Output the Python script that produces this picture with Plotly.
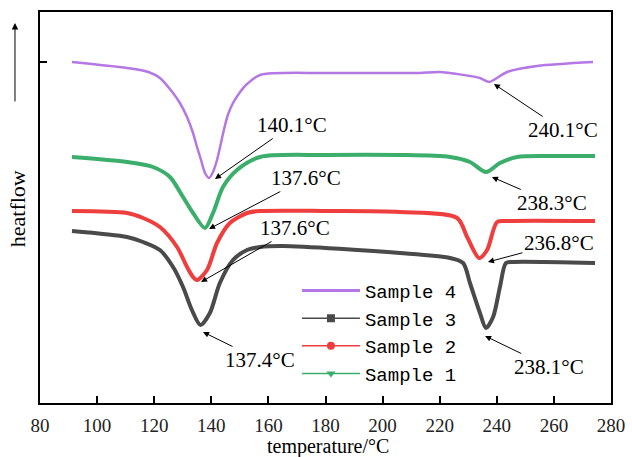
import plotly.graph_objects as go

# Sample 4 (purple)
t4 = [91.2, 110.5, 118.0, 122.0, 126.6, 129.0, 131.5, 133.6, 135.0, 136.4, 137.8, 139.2, 140.6, 142.0, 143.0,
      144.4, 145.8, 147.6, 150.1, 152.5, 157.1, 180.0, 206.0, 213.1, 220.1, 230.6, 234.1, 237.3,
      243.6, 254.1, 273.7]
y4 = [34.1, 33.5, 33.1, 32.5, 31.0, 30.0, 28.6, 27.0, 25.6, 24.3, 23.0, 22.5, 23.1, 24.3, 25.5,
      27.3, 28.8, 30.0, 31.1, 31.9, 32.8, 33.0, 33.0, 33.0, 33.1, 32.7, 32.5, 32.1,
      33.1, 33.7, 34.1]

# Sample 1 (green)
t1 = [91.2, 110.5, 119.6, 125.5, 130.1, 133.6, 137.8, 140.6, 144.1, 149.0, 157.1, 180.0, 206.1,
      223.6, 230.6, 236.2, 241.1, 247.1, 258.6, 274.4]
y1 = [24.6, 24.1, 23.6, 22.6, 20.6, 19.0, 17.5, 19.0, 21.6, 23.3, 24.6, 24.8, 24.8,
      24.6, 24.1, 23.1, 24.0, 24.6, 24.7, 24.7]

# Sample 2 (red)
t2 = [91.2, 110.5, 116.1, 122.0, 128.0, 131.5, 133.6, 135.0, 138.5, 142.0, 146.5, 152.5, 157.1,
      180.0, 206.1, 226.1, 229.6, 233.8, 236.6, 240.1, 243.6, 274.4]
y2 = [19.2, 19.0, 18.5, 17.6, 15.6, 13.6, 12.6, 12.3, 13.3, 16.0, 18.0, 19.0, 19.2,
      19.2, 19.1, 18.5, 16.6, 14.5, 15.3, 18.1, 18.2, 18.2]

# Sample 3 (dark gray)
t3 = [91.2, 110.5, 116.1, 122.0, 126.6, 130.1, 133.2, 136.2, 139.5, 143.0, 147.6, 152.5, 157.1,
      165.0, 206.1, 223.6, 228.2, 230.6, 234.1, 236.2, 238.7, 241.1, 243.2, 245.7, 274.4]
y3 = [17.2, 16.6, 16.1, 15.3, 13.6, 11.6, 9.3, 7.8, 9.0, 12.0, 14.3, 15.3, 15.6,
      15.7, 15.0, 14.5, 14.0, 12.0, 9.0, 7.5, 8.6, 11.6, 14.0, 14.1, 14.0]

names = ["Sample 4", "Sample 3", "Sample 2", "Sample 1"]
colors = ["#B477E4", "#4A4A4A", "#EE3E3E", "#3AAE6A"]
symbols = [None, "square", "circle", "triangle-down"]

# peak labels: (temperature, heatflow, text)
peak_t = [141.3, 139.2, 136.4, 137.1, 235.9, 239.0, 238.3, 236.9]
peak_y = [22.4, 17.4, 12.1, 7.1, 6.7, 31.9, 22.6, 14.1]
peak_text = ["140.1°C", "137.6°C", "137.6°C", "137.4°C", "238.1°C", "240.1°C", "238.3°C", "236.8°C"]
peak_ax = [77, 97, 94, 57, 64, 69, 60, 71]
peak_ay = [-54, -51, -54, 28, 31, 46, 26, -19]

xticks = [80, 100, 120, 140, 160, 180, 200, 220, 240, 260, 280]

fig = go.Figure()
data = [(t4, y4, 2.5), (t3, y3, 4), (t2, y2, 4), (t1, y1, 4)]
for idx in [0, 3, 2, 1]:
    t, y, w = data[idx]
    fig.add_trace(go.Scatter(x=t, y=y, mode="lines",
                             line=dict(color=colors[idx], width=w, shape="spline", smoothing=0.8),
                             showlegend=False, hoverinfo="skip"))
for idx in range(4):
    if symbols[idx] is None:
        fig.add_trace(go.Scatter(x=[None], y=[None], mode="lines", name=names[idx],
                                 line=dict(color=colors[idx], width=3)))
    else:
        fig.add_trace(go.Scatter(x=[None], y=[None], mode="lines+markers", name=names[idx],
                                 line=dict(color=colors[idx], width=1.5),
                                 marker=dict(symbol=symbols[idx], size=8, color=colors[idx])))

for i in range(len(peak_t)):
    fig.add_annotation(x=peak_t[i], y=peak_y[i], text=peak_text[i], ax=peak_ax[i], ay=peak_ay[i],
                       showarrow=True, arrowhead=2, arrowsize=1.2, arrowwidth=1, arrowcolor="black",
                       standoff=0, font=dict(family="Liberation Serif", size=21, color="black"))

fig.add_annotation(xref="paper", yref="paper", x=-0.040, y=0.496, xanchor="center", yanchor="middle",
                   text="heatflow", textangle=-90, showarrow=False,
                   font=dict(family="Liberation Serif", size=22, color="black"))
fig.add_annotation(xref="paper", yref="paper", x=0.505, y=-0.112, xanchor="center", yanchor="middle",
                   text="temperature/°C", showarrow=False,
                   font=dict(family="Liberation Serif", size=20, color="black"))
fig.add_annotation(xref="paper", yref="paper", x=-0.0438, y=0.972, ax=0, ay=80, text="",
                   showarrow=True, arrowhead=2, arrowsize=1.3, arrowwidth=1, arrowcolor="black", standoff=0)

fig.update_layout(
    width=632, height=457,
    margin=dict(l=40, r=21, t=12, b=54),
    paper_bgcolor="white", plot_bgcolor="white",
    showlegend=True,
    legend=dict(x=0.45, y=0.336, xanchor="left", yanchor="top", bgcolor="rgba(0,0,0,0)",
                font=dict(family="Liberation Mono", size=19, color="black"), itemwidth=58,
                tracegroupgap=0),
    xaxis=dict(range=[80, 280], tickvals=xticks, ticktext=[str(v) for v in xticks],
               ticks="inside", ticklen=7, tickwidth=1.5, tickcolor="black", automargin=False,
               showline=True, linecolor="black", linewidth=2, mirror=True, showgrid=False, zeroline=False,
               ticklabelstandoff=4,
               tickfont=dict(family="Liberation Serif", size=19, color="#222")),
    yaxis=dict(range=[0, 39.1], tickvals=[34.1], ticktext=[""], ticks="inside", ticklen=7, tickwidth=1.5,
               tickcolor="black", showline=True, linecolor="black", linewidth=2, mirror=True, automargin=False,
               showgrid=False, zeroline=False, showticklabels=True),
)

fig.write_html("out.html")
